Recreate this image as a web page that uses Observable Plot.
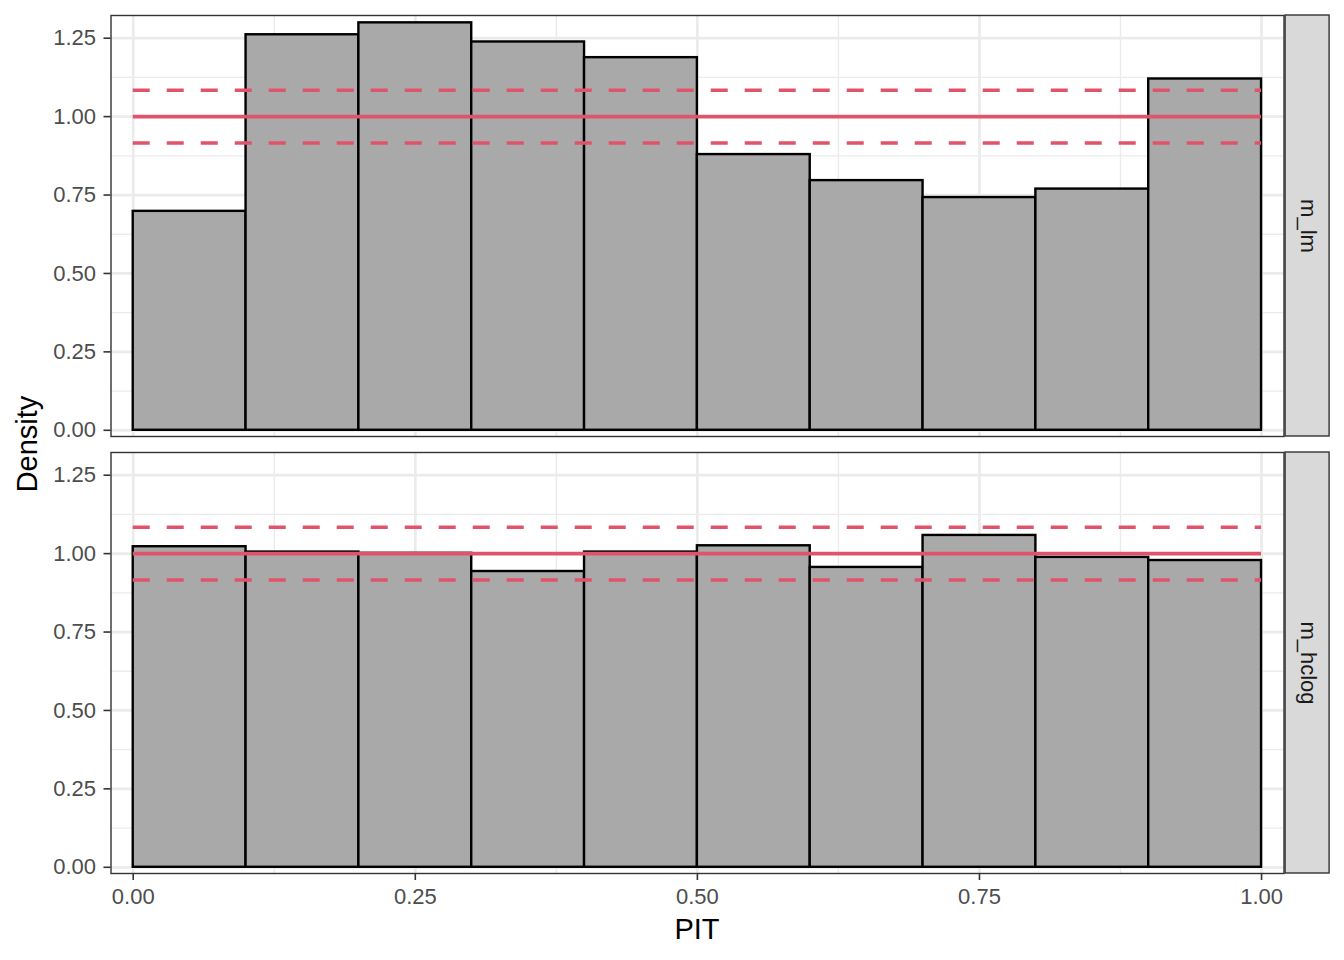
<!DOCTYPE html>
<html>
<head>
<meta charset="utf-8">
<script src="https://cdn.jsdelivr.net/npm/d3@7"></script>
<script src="https://cdn.jsdelivr.net/npm/@observablehq/plot@0.6"></script>
<style>
  html, body { margin: 0; padding: 0; background: white; }
  #chart svg { display: block; }
</style>
</head>
<body>
<div id="chart"></div>
<script>
// ---- data ----
const models = ["m_lm", "m_hclog"];
const binStart = [0.0, 0.1, 0.2, 0.3, 0.4, 0.5, 0.6, 0.7, 0.8, 0.9];
const binWidth = 0.1;
const densityLm    = [0.698, 1.261, 1.299, 1.238, 1.188, 0.879, 0.796, 0.742, 0.769, 1.120];
const densityHclog = [1.022, 1.005, 1.001, 0.943, 1.005, 1.025, 0.956, 1.058, 0.988, 0.978];
const refLine = 1.0;
const bandLines = [1.084, 0.916];
const xTicks = [0, 0.25, 0.5, 0.75, 1];
const xMinor = [0.125, 0.375, 0.625, 0.875];
const yTicks = [0, 0.25, 0.5, 0.75, 1, 1.25];
const yMinor = [0.125, 0.375, 0.625, 0.875, 1.125];

// ---- tables built from the arrays ----
const hist = [];
models.forEach((m, k) => {
  const vals = k === 0 ? densityLm : densityHclog;
  binStart.forEach((b, i) => hist.push({model: m, x1: b, x2: b + binWidth, density: vals[i]}));
});
const refRows = models.map(m => ({model: m, y: refLine}));
const bandRows = models.flatMap(m => bandLines.map(y => ({model: m, y})));

const xDomain = [-0.0197, 1.0199];
const yDomain = [-0.0198, 1.3224];
const stripX1 = 1.0213, stripX2 = 1.0603;

const font = "'Liberation Sans', Arial, Helvetica, sans-serif";
const red = "#DF536B";

const chart = Plot.plot({
  width: 1344,
  height: 960,
  marginLeft: 110.5,
  marginRight: 60.5,
  marginTop: 15,
  marginBottom: 87,
  style: {fontFamily: font, background: "white", overflow: "visible"},
  x: {domain: xDomain},
  y: {domain: yDomain},
  fy: {domain: models, paddingInner: 16 / 437, paddingOuter: 0, axis: null, label: null},
  marks: [
    Plot.ruleX(xMinor, {stroke: "#EBEBEB", strokeWidth: 1.4}),
    Plot.ruleY(yMinor, {stroke: "#EBEBEB", strokeWidth: 1.4}),
    Plot.ruleX(xTicks, {stroke: "#EBEBEB", strokeWidth: 2.7}),
    Plot.ruleY(yTicks, {stroke: "#EBEBEB", strokeWidth: 2.7}),
    Plot.rectY(hist, {x1: "x1", x2: "x2", y: "density", fy: "model",
      fill: "#A9A9A9", stroke: "black", strokeWidth: 2.4}),
    Plot.ruleY(bandRows, {y: "y", fy: "model", x1: 0, x2: 1,
      stroke: red, strokeWidth: 3.6, strokeDasharray: "17,17"}),
    Plot.ruleY(refRows, {y: "y", fy: "model", x1: 0, x2: 1,
      stroke: red, strokeWidth: 3.6}),
    Plot.frame({stroke: "#333333", strokeWidth: 1.4}),
    Plot.rect(models, {x1: stripX1, x2: stripX2, y1: yDomain[0], y2: yDomain[1], fy: d => d,
      fill: "#D9D9D9", stroke: "#333333", strokeWidth: 1.4}),
    Plot.text(models, {x: (stripX1 + stripX2) / 2, y: (yDomain[0] + yDomain[1]) / 2, fy: d => d,
      text: d => d, rotate: 90, fontSize: 22, fill: "#1A1A1A"}),
    Plot.axisY({ticks: yTicks, tickFormat: d3.format(".2f"), tickSize: 7, tickPadding: 8,
      label: null, fontSize: 22, stroke: "#333333", fill: "#4D4D4D", strokeWidth: 1.6}),
    Plot.axisX({ticks: xTicks, tickFormat: d3.format(".2f"), tickSize: 7, tickPadding: 8,
      label: null, fontSize: 22, stroke: "#333333", fill: "#4D4D4D", strokeWidth: 1.6, anchor: "bottom"})
  ]
});

document.getElementById("chart").appendChild(chart);

const svg = d3.select(chart);
svg.append("text")
  .attr("x", 697).attr("y", 939)
  .attr("text-anchor", "middle")
  .style("font-family", font).style("font-size", "29px").attr("fill", "black")
  .text("PIT");
svg.append("text")
  .attr("transform", "translate(37,444) rotate(-90)")
  .attr("text-anchor", "middle")
  .style("font-family", font).style("font-size", "29px").attr("fill", "black")
  .text("Density");
</script>
</body>
</html>
